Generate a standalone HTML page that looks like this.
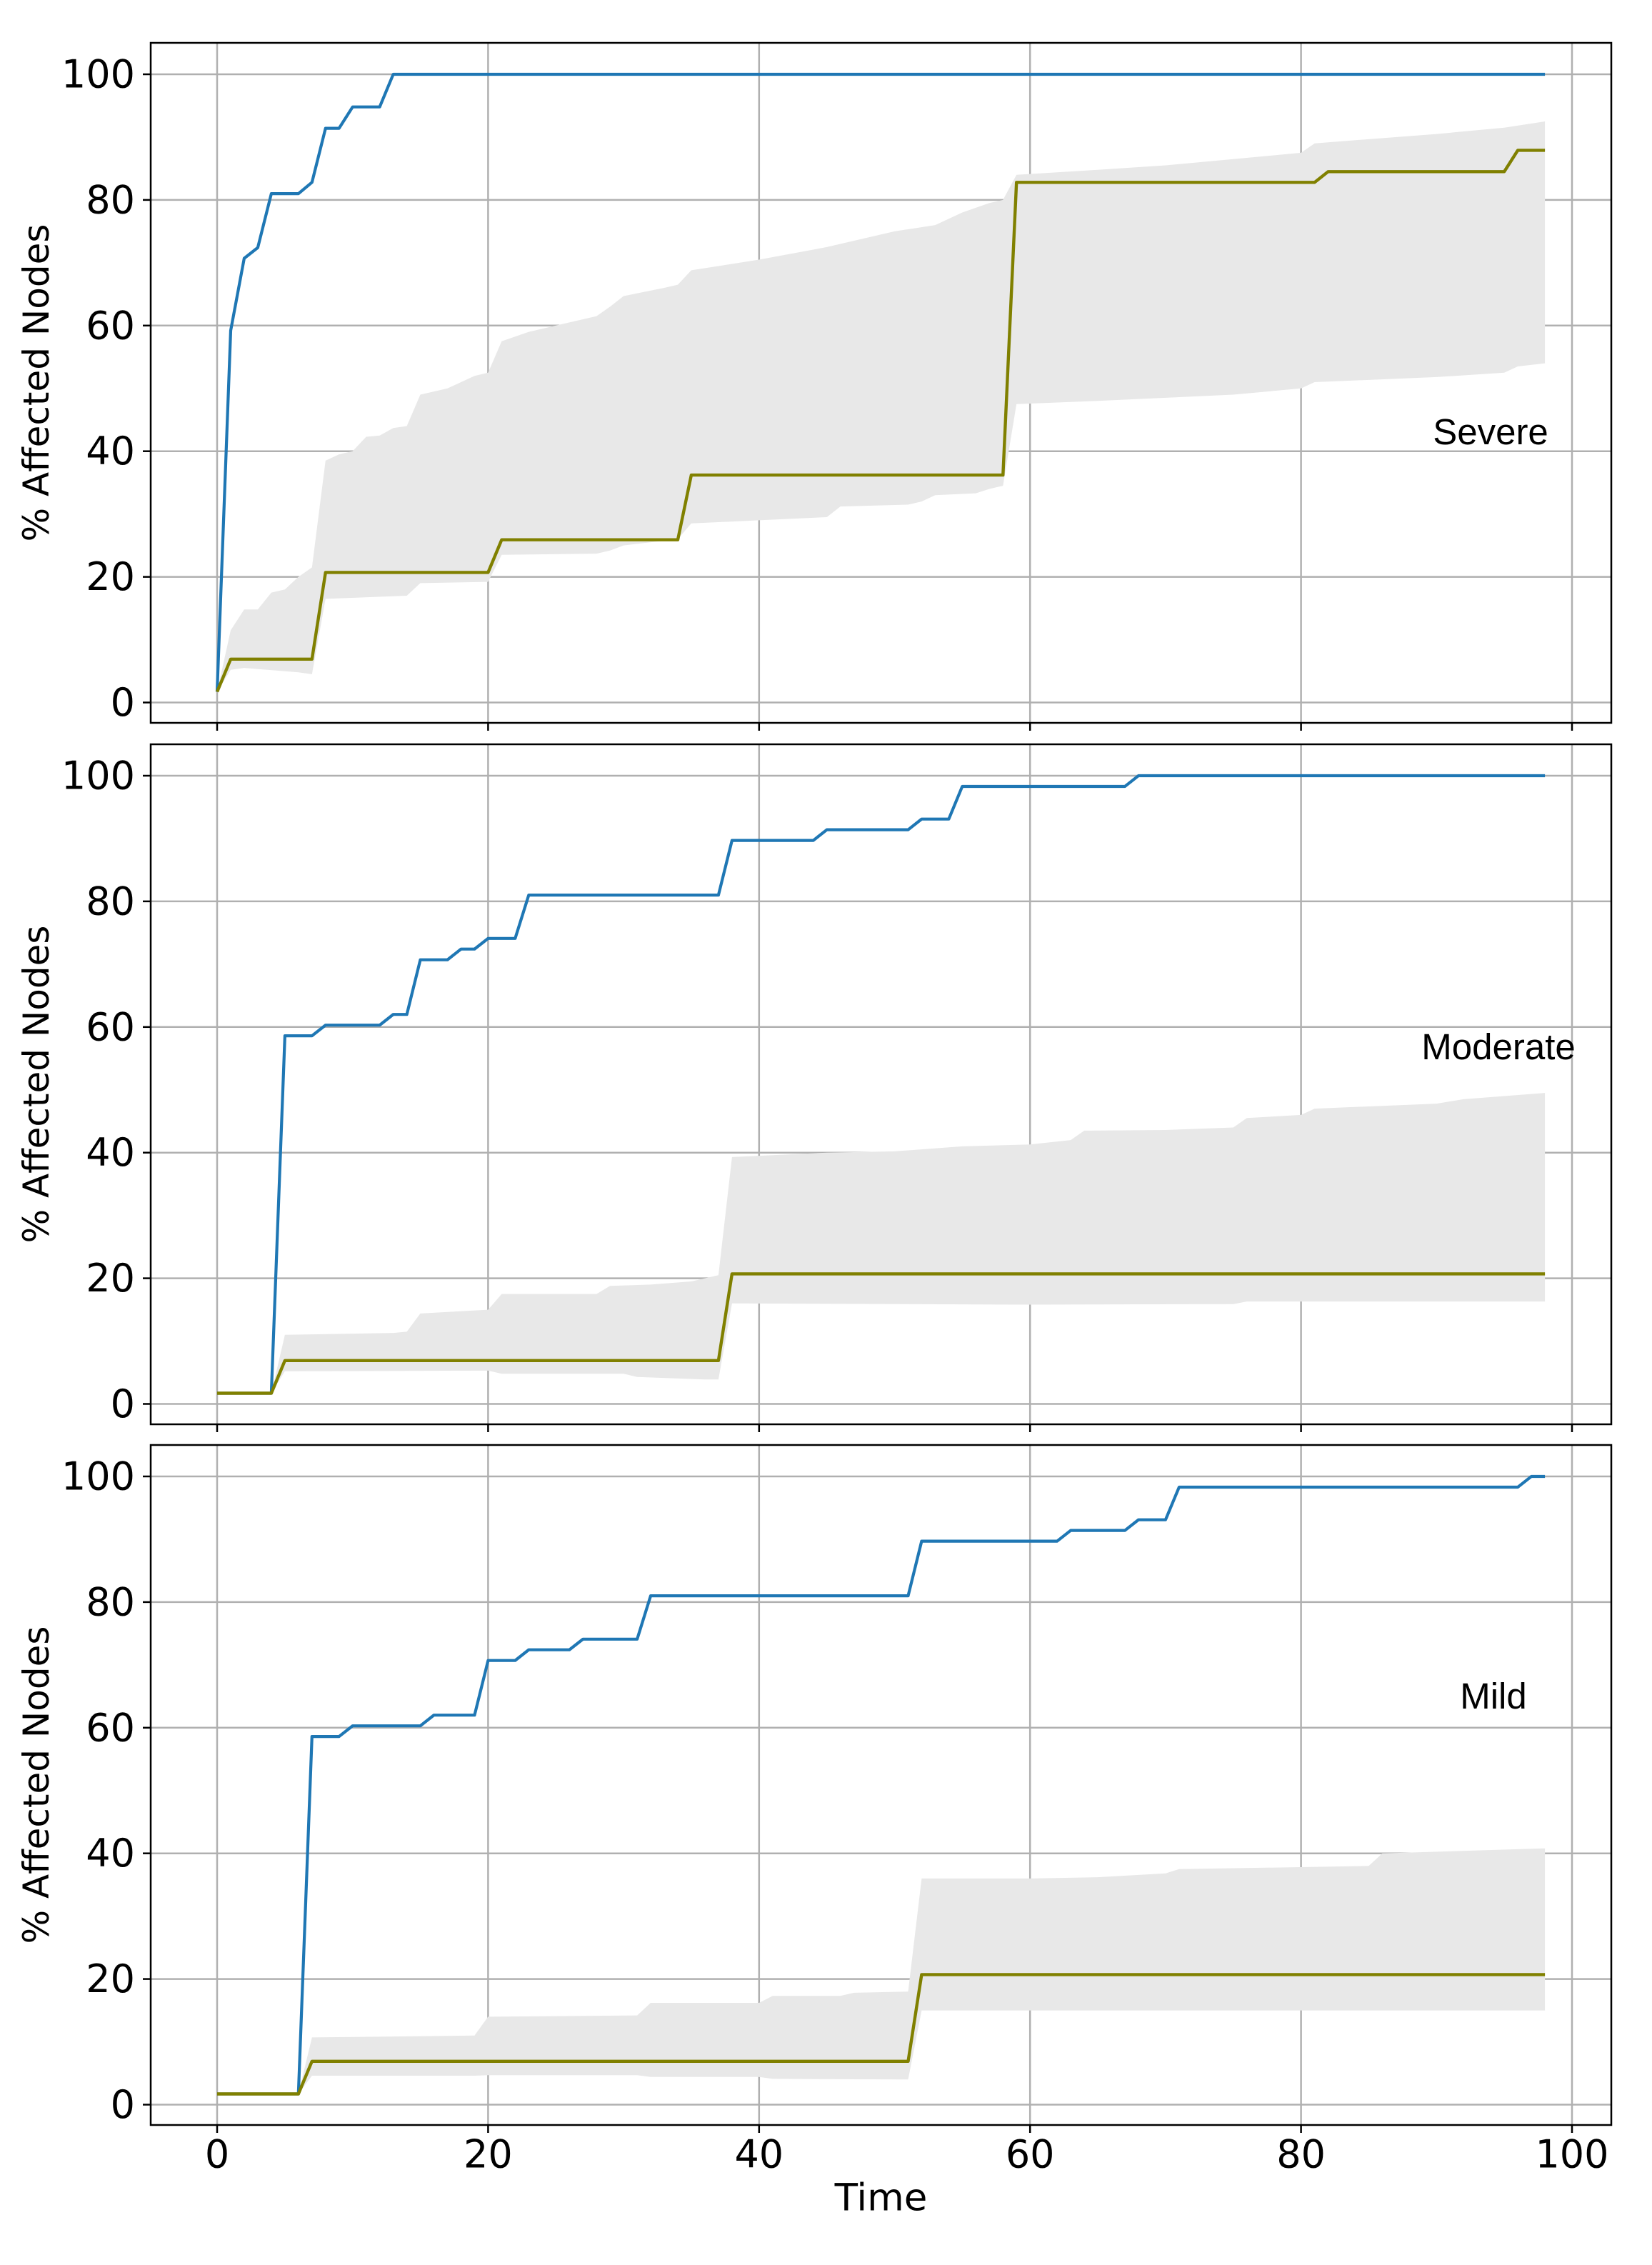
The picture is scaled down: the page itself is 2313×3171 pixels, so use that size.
<!DOCTYPE html>
<html><head><meta charset="utf-8"><style>
html,body{margin:0;padding:0;background:#fff}
svg{display:block}
text{font-family:"DejaVu Sans","Liberation Sans",sans-serif;fill:#000}
</style></head><body>
<svg id="chart" width="2313" height="3171" viewBox="0 0 2313 3171" xmlns="http://www.w3.org/2000/svg"></svg>
<script>
// ---- data (step series: breakpoint times and values) ----
const xTicks = [0,20,40,60,80,100];
const yTicks = [0,20,40,60,80,100];
const panelLabels = ["Severe","Moderate","Mild"];

const sevBlueT = [0,1,2,3,4,6,7,8,9,10,12,13,98];
const sevBlueV = [1.7,59.2,70.7,72.4,81,81,82.8,91.4,91.4,94.8,94.8,100,100];
const sevOliveT = [0,1,7,8,20,21,34,35,58,59,81,82,95,96,98];
const sevOliveV = [1.7,6.9,6.9,20.7,20.7,25.9,25.9,36.2,36.2,82.8,82.8,84.5,84.5,87.9,87.9];
const sevUpT = [0,1,2,3,4,5,6,7,8,9,10,11,12,13,14,15,17,19,20,21,23,25,27,28,29,30,33,34,35,40,45,50,53,55,57,58,59,65,70,75,80,81,90,95,98];
const sevUpV = [1.7,11.5,14.8,14.8,17.5,18,20,21.5,38.5,39.5,40,42.3,42.5,43.7,44,49,50,52,52.5,57.5,59,60,61,61.5,63,64.7,66,66.5,68.8,70.5,72.5,75,76,78,79.5,80,84,84.8,85.5,86.5,87.5,89,90.5,91.5,92.5];
const sevLoT = [0,1,2,6,7,8,14,15,20,21,28,29,30,34,35,40,45,46,51,52,53,56,57,58,59,65,70,75,80,81,90,95,96,98];
const sevLoV = [1.7,5.2,5.5,4.8,4.5,16.5,17,19,19.2,23.5,23.7,24.2,25,26,28.5,29,29.5,31.2,31.5,32,33,33.3,34,34.5,47.5,48,48.5,49,50,51,51.8,52.5,53.5,54];

const modBlueT = [0,4,5,7,8,12,13,14,15,17,18,19,20,22,23,37,38,44,45,51,52,54,55,67,68,98];
const modBlueV = [1.7,1.7,58.6,58.6,60.3,60.3,62,62,70.7,70.7,72.4,72.4,74.1,74.1,81,81,89.7,89.7,91.4,91.4,93.1,93.1,98.3,98.3,100,100];
const modOliveT = [0,4,5,37,38,98];
const modOliveV = [1.7,1.7,6.9,6.9,20.7,20.7];
const modUpT = [0,4,5,13,14,15,20,21,28,29,32,35,36,37,38,40,45,50,55,60,63,64,70,75,76,80,81,90,92,95,98];
const modUpV = [1.7,1.7,11,11.3,11.5,14.4,15,17.5,17.5,18.8,19,19.5,20,20.5,39.3,39.5,40,40.2,41,41.3,42,43.5,43.6,44,45.5,46,47,47.8,48.5,49,49.5];
const modLoT = [0,4,5,20,21,30,31,36,37,38,60,75,76,98];
const modLoV = [1.7,1.7,5.2,5.3,4.8,4.8,4.3,3.9,3.9,16,15.8,15.9,16.3,16.3];

const milBlueT = [0,6,7,9,10,15,16,19,20,22,23,26,27,31,32,51,52,62,63,67,68,70,71,96,97,98];
const milBlueV = [1.7,1.7,58.6,58.6,60.3,60.3,62,62,70.7,70.7,72.4,72.4,74.1,74.1,81,81,89.7,89.7,91.4,91.4,93.1,93.1,98.3,98.3,100,100];
const milOliveT = [0,6,7,51,52,98];
const milOliveV = [1.7,1.7,6.9,6.9,20.7,20.7];
const milUpT = [0,6,7,19,20,31,32,40,41,46,47,51,52,60,65,70,71,80,85,86,98];
const milUpV = [1.7,1.7,10.7,11,14,14.2,16.2,16.2,17.3,17.3,17.8,18,36,36,36.2,36.8,37.5,37.8,38,40,40.8];
const milLoT = [0,6,7,19,20,31,32,40,41,51,52,98];
const milLoV = [1.7,1.7,4.6,4.6,4.7,4.7,4.4,4.4,4.1,4.0,15,15];

// ---- layout ----
const NS = "http://www.w3.org/2000/svg";
const svg = document.getElementById("chart");
const AX_L = 211, AX_R = 2256, X0 = 304, XPU = 18.97;
const panelTops = [60, 1042, 2023];
const PANEL_H = 952, Y0_OFF = 923.5, YPU = 8.795;
const labelPos = [[2087,622],[2098,1483],[2091,2392]];
const panels = [
  {blueT:sevBlueT,blueV:sevBlueV,oliveT:sevOliveT,oliveV:sevOliveV,upT:sevUpT,upV:sevUpV,loT:sevLoT,loV:sevLoV},
  {blueT:modBlueT,blueV:modBlueV,oliveT:modOliveT,oliveV:modOliveV,upT:modUpT,upV:modUpV,loT:modLoT,loV:modLoV},
  {blueT:milBlueT,blueV:milBlueV,oliveT:milOliveT,oliveV:milOliveV,upT:milUpT,upV:milUpV,loT:milLoT,loV:milLoV}
];
function xs(t){return X0 + t*XPU;}
function mk(tag, attrs){const e=document.createElementNS(NS,tag);for(const k in attrs)e.setAttribute(k,attrs[k]);return e;}
function pts(T,V,ys){return T.map((t,i)=>xs(t).toFixed(1)+","+ys(V[i]).toFixed(1));}

panels.forEach((p, pi) => {
  const top = panelTops[pi];
  const ys = v => top + Y0_OFF - v*YPU;
  const g = mk("g", {});
  
  
  svg.appendChild(g);
  xTicks.forEach(t => {
    const l = mk("line",{x1:xs(t),x2:xs(t),y1:top,y2:top+PANEL_H,stroke:"#b0b0b0","stroke-width":2.5});
    
    
    g.appendChild(l);
  });
  yTicks.forEach(v => {
    const l = mk("line",{x1:AX_L,x2:AX_R,y1:ys(v),y2:ys(v),stroke:"#b0b0b0","stroke-width":2.5});
    
    
    g.appendChild(l);
    const tk = mk("line",{x1:AX_L-11,x2:AX_L,y1:ys(v),y2:ys(v),stroke:"#000","stroke-width":2.5});
    
    
    g.appendChild(tk);
    const tl = mk("text",{x:AX_L-22,y:ys(v),"text-anchor":"end","dominant-baseline":"central","font-size":54});
    tl.textContent = v;
    
    
    g.appendChild(tl);
  });
  const bandPts = pts(p.upT,p.upV,ys).concat(pts(p.loT,p.loV,ys).reverse());
  const band = mk("polygon",{points:bandPts.join(" "),fill:"#e8e8e8",stroke:"none"});
  
  
  g.appendChild(band);
  const bl = mk("polyline",{points:pts(p.blueT,p.blueV,ys).join(" "),fill:"none",stroke:"#1f77b4","stroke-width":4.2,"stroke-linejoin":"round"});
  
  
  g.appendChild(bl);
  const ol = mk("polyline",{points:pts(p.oliveT,p.oliveV,ys).join(" "),fill:"none",stroke:"#808000","stroke-width":4.4,"stroke-linejoin":"round"});
  
  
  g.appendChild(ol);
  const fr = mk("rect",{x:AX_L,y:top,width:AX_R-AX_L,height:PANEL_H,fill:"none",stroke:"#000","stroke-width":2.5});
  
  
  g.appendChild(fr);
  xTicks.forEach(t => {
    const tk = mk("line",{x1:xs(t),x2:xs(t),y1:top+PANEL_H,y2:top+PANEL_H+11,stroke:"#000","stroke-width":2.5});
    
    
    g.appendChild(tk);
  });
  const cy = top + PANEL_H/2;
  const yl = mk("text",{x:51,y:cy,"text-anchor":"middle","dominant-baseline":"central","font-size":50,transform:`rotate(-90 51 ${cy})`});
  yl.textContent = "% Affected Nodes";
  
  
  g.appendChild(yl);
  const pl = mk("text",{x:labelPos[pi][0],y:labelPos[pi][1],"text-anchor":"middle","font-size":51,style:'font-family:"Liberation Sans",sans-serif'});
  pl.textContent = panelLabels[pi];
  
  
  g.appendChild(pl);
});
xTicks.forEach(t => {
  const tl = mk("text",{x:xs(t),y:3016,"text-anchor":"middle","dominant-baseline":"central","font-size":54});
  tl.textContent = t;
  
  
  svg.appendChild(tl);
});
const xt = mk("text",{x:(AX_L+AX_R)/2,y:3077,"text-anchor":"middle","dominant-baseline":"central","font-size":53});
xt.textContent = "Time";


svg.appendChild(xt);
</script>
</body></html>
